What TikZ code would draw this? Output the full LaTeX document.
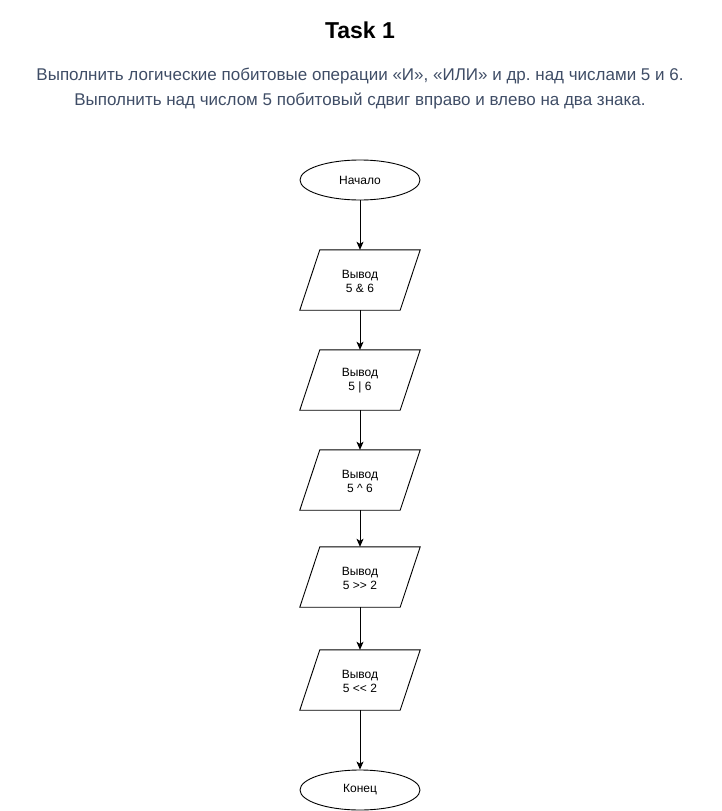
\documentclass[tikz,border=0pt]{standalone}
\usepackage{fontspec}
\setmainfont{Liberation Sans}[Ligatures=TeXOff]
\usetikzlibrary{shapes.geometric,arrows.meta}
\definecolor{subcol}{HTML}{3F4D66}
\frenchspacing
\tikzset{
  term/.style={draw, ellipse, minimum width=120pt, minimum height=40pt, inner sep=0pt, font=\fontsize{12}{14}\selectfont, line width=0.9pt},
  io/.style={rectangle, minimum width=120pt, minimum height=60pt, inner sep=0pt, align=center, font=\fontsize{12}{14}\selectfont},
  ioshape/.style={draw, line width=0.9pt, line join=miter},
  flow/.style={-{Stealth[length=8pt,width=7pt,inset=2pt]}, line width=0.9pt},
}
\begin{document}
\begin{tikzpicture}[x=1pt,y=-1pt]
\useasboundingbox (0,0) rectangle (721,811);
\node[font=\fontsize{23}{27}\selectfont\bfseries] (title) at (360,30) {Task 1};
\node[font=\fontsize{17}{20}\selectfont, text=subcol] (l1) at (360,76) {Выполнить логические побитовые операции «И», «ИЛИ» и др. над числами 5 и 6.};
\node[font=\fontsize{17}{20}\selectfont, text=subcol] (l2) at (360,101) {Выполнить над числом 5 побитовый сдвиг вправо и влево на два знака.};
\node[term] (start) at (360,180) {Начало};
\node[io] (b1) at (360,281) {Вывод\\5 \& 6};
\node[io] (b2) at (360,381) {Вывод\\5 | 6};
\node[io] (b3) at (360,481) {Вывод\\5 \^{} 6};
\node[io] (b4) at (360,578) {Вывод\\5 >> 2};
\node[io] (b5) at (360,681) {Вывод\\5 << 2};
\node[term] (end) at (360,790) {Конец};
\foreach \b in {b1,b2,b3,b4,b5}
  \draw[ioshape] ([xshift=20pt,yshift=1pt]\b.north west) -- ([yshift=1pt]\b.north east) -- ([xshift=-20pt,yshift=1pt]\b.south east) -- ([yshift=1pt]\b.south west) -- cycle;
\draw[flow] (start) -- ([yshift=1pt]b1.north);
\draw[flow] ([yshift=1pt]b1.south) -- ([yshift=1pt]b2.north);
\draw[flow] ([yshift=1pt]b2.south) -- ([yshift=1pt]b3.north);
\draw[flow] ([yshift=1pt]b3.south) -- ([yshift=1pt]b4.north);
\draw[flow] ([yshift=1pt]b4.south) -- ([yshift=1pt]b5.north);
\draw[flow] ([yshift=1pt]b5.south) -- (end);
\end{tikzpicture}
\end{document}
